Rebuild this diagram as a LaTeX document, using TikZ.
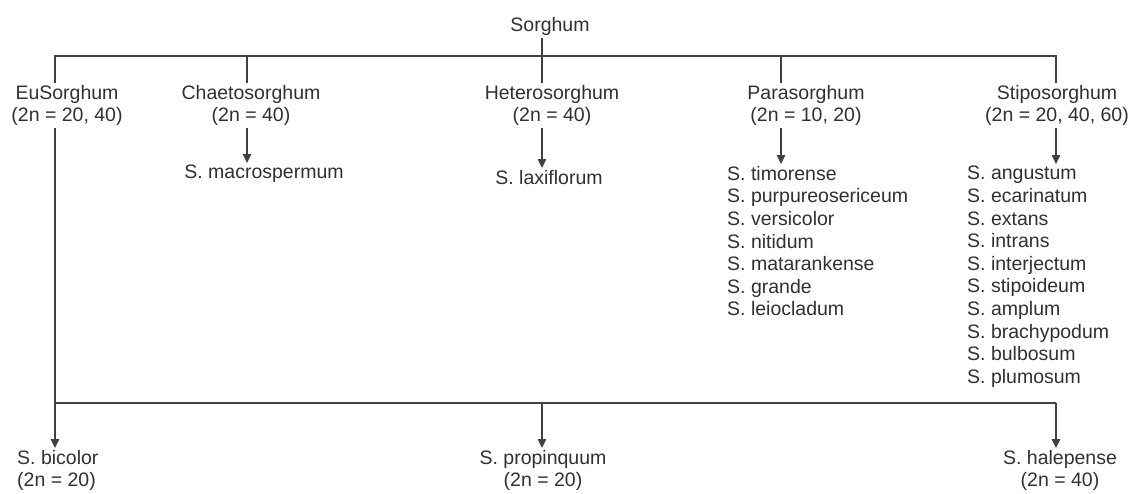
\documentclass[tikz,border=0pt]{standalone}
\usepackage{fontspec}
\setmainfont{Liberation Sans}
\usepackage{xcolor}
\usepackage{tikz}
\usetikzlibrary{arrows.meta}

\definecolor{txtgray}{HTML}{303030}
\definecolor{linegray}{HTML}{404040}

\begin{document}
\begin{tikzpicture}[
		x=1pt, y=-1pt,
		lbl/.style={align=center, anchor=north, inner sep=2pt, text=txtgray, font=\fontsize{19.5}{22.6}\selectfont},
		spl/.style={align=left, anchor=north west, inner sep=2pt, text=txtgray, font=\fontsize{19.5}{22.6}\selectfont},
		link/.style={draw=linegray, line width=1.5pt},
		arr/.style={link, -{Triangle[length=9pt, width=8.5pt]}}
	]
		\useasboundingbox (0,0) rectangle (1130,493);

		\coordinate (euDrop) at (55,56);
		\coordinate (chaetoDrop) at (247,56);
		\coordinate (heteroDrop) at (542,56);
		\coordinate (paraDrop) at (781,56);
		\coordinate (stipoDrop) at (1056,56);
		\coordinate (lowbar) at (542,403);

		\node[lbl] (sorghum) at (550,15) {Sorghum};

		\node[lbl] (eu) at (67,83) {EuSorghum\\(2n = 20, 40)};
		\node[lbl] (chaeto) at (251,83) {Chaetosorghum\\(2n = 40)};
		\node[lbl] (hetero) at (552,83) {Heterosorghum\\(2n = 40)};
		\node[lbl] (para) at (806,83) {Parasorghum\\(2n = 10, 20)};
		\node[lbl] (stipo) at (1057,83) {Stiposorghum\\(2n = 20, 40, 60)};

		\node[lbl] (macro) at (264,163) {S. macrospermum};
		\node[lbl] (laxi) at (549,168) {S. laxiflorum};
		\node[spl] (paralist) at (725,164) {S. timorense\\S. purpureosericeum\\S. versicolor\\S. nitidum\\S. matarankense\\S. grande\\S. leiocladum};
		\node[spl] (stipolist) at (965,164) {S. angustum\\S. ecarinatum\\S. extans\\S. intrans\\S. interjectum\\S. stipoideum\\S. amplum\\S. brachypodum\\S. bulbosum\\S. plumosum};

		\node[spl] (bicolor) at (15,448) {S. bicolor\\(2n = 20)};
		\node[lbl] (propinquum) at (543,448) {S. propinquum\\(2n = 20)};
		\node[lbl] (halepense) at (1060,448) {S. halepense\\(2n = 40)};

		\draw[link] (sorghum.south -| heteroDrop) -- (hetero.north -| heteroDrop);
		\draw[link] (eu.north -| euDrop) -- (euDrop) -- (stipoDrop) -- (stipo.north -| stipoDrop);
		\draw[link] (chaetoDrop) -- (chaeto.north -| chaetoDrop);
		\draw[link] (paraDrop) -- (para.north -| paraDrop);

		\draw[arr] (chaeto.south -| chaetoDrop) -- (macro.north -| chaetoDrop);
		\draw[arr] (hetero.south -| heteroDrop) -- (laxi.north -| heteroDrop);
		\draw[arr] (para.south -| paraDrop) -- (paralist.north -| paraDrop);
		\draw[arr] (stipo.south -| stipoDrop) -- (stipolist.north -| stipoDrop);

		\draw[arr] (eu.south -| euDrop) -- (bicolor.north -| euDrop);
		\draw[link] (lowbar -| euDrop) -- (lowbar -| stipoDrop);
		\draw[arr] (lowbar) -- (propinquum.north -| lowbar);
		\draw[arr] (lowbar -| stipoDrop) -- (halepense.north -| stipoDrop);
	\end{tikzpicture}
\end{document}
